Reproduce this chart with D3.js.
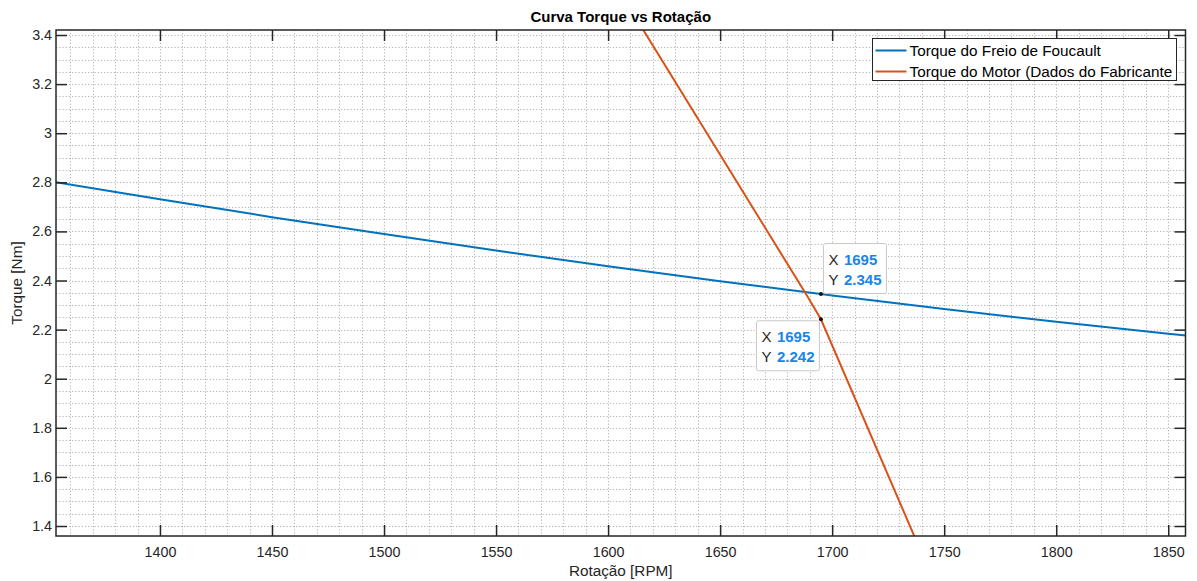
<!DOCTYPE html>
<html>
<head>
<meta charset="utf-8">
<script src="https://cdn.jsdelivr.net/npm/d3@7"></script>
<style>
  html, body { margin: 0; padding: 0; background: #ffffff; }
  svg { display: block; font-family: "Liberation Sans", Arial, Helvetica, sans-serif; }
</style>
</head>
<body>
<svg id="chart" width="1197" height="581"></svg>
<script>
// ---- data ----
const brakeRpm    = [1350, 1400, 1450, 1500, 1550, 1600, 1650, 1695, 1700, 1750, 1800, 1850, 1860];
const brakeTorque = [2.806, 2.731, 2.658, 2.589, 2.522, 2.458, 2.397, 2.345, 2.339, 2.284, 2.232, 2.183, 2.174];
const motorRpm    = [1600, 1689, 1695, 1750];
const motorTorque = [3.653, 2.335, 2.242, 1.076];
const xTicks = [1400, 1450, 1500, 1550, 1600, 1650, 1700, 1750, 1800, 1850];
const yTicks = [1.4, 1.6, 1.8, 2, 2.2, 2.4, 2.6, 2.8, 3, 3.2, 3.4];
const yTickLabels = ["1.4", "1.6", "1.8", "2", "2.2", "2.4", "2.6", "2.8", "3", "3.2", "3.4"];
const seriesNames = ["Torque do Freio de Foucault", "Torque do Motor (Dados do Fabricante"];
const seriesColors = ["#0072BD", "#D95319"];
const tips = [
  { x: 1695, y: 2.345, side: "above" },
  { x: 1695, y: 2.242, side: "below" }
];
const titleText = "Curva Torque vs Rotação";
const xLabel = "Rotação [RPM]";
const yLabel = "Torque [Nm]";

// ---- layout ----
const L = 56, R = 1185.5, T = 30, B = 536;
const svg = d3.select("#chart");
const x = d3.scaleLinear().domain([1353.6, 1857.7]).range([L, R]);
const y = d3.scaleLinear().domain([1.3593, 3.4204]).range([B, T]);
const axisColor = "#262626";

// clip
svg.append("defs").append("clipPath").attr("id", "plotclip")
  .append("rect").attr("x", L).attr("y", T).attr("width", R - L).attr("height", B - T);

// background
svg.append("rect").attr("x", L).attr("y", T).attr("width", R - L).attr("height", B - T).attr("fill", "#fff");

// minor grid (dotted)
const grid = svg.append("g").attr("stroke", "#b4b4b4").attr("stroke-width", 1).attr("stroke-dasharray", "1.2,2");
const xGrid = d3.range(1360, 1858, 10);
const yGrid = d3.range(28, 69).map(d => d * 0.05);
grid.selectAll("line.vx").data(xGrid).join("line")
  .attr("x1", d => Math.round(x(d)) + 0.5).attr("x2", d => Math.round(x(d)) + 0.5)
  .attr("y1", T).attr("y2", B);
grid.selectAll("line.hy").data(yGrid.filter(d => y(d) >= T && y(d) <= B)).join("line")
  .attr("y1", d => Math.round(y(d)) + 0.5).attr("y2", d => Math.round(y(d)) + 0.5)
  .attr("x1", L).attr("x2", R);

// lines
const lineGen = d3.line().x(d => x(d[0])).y(d => y(d[1]));
const plot = svg.append("g").attr("clip-path", "url(#plotclip)");
plot.append("path").datum(d3.zip(brakeRpm, brakeTorque))
  .attr("d", lineGen).attr("fill", "none").attr("stroke", seriesColors[0]).attr("stroke-width", 2);
plot.append("path").datum(d3.zip(motorRpm, motorTorque))
  .attr("d", lineGen).attr("fill", "none").attr("stroke", seriesColors[1]).attr("stroke-width", 2);

// axes
const fmtY = d => yTickLabels[yTicks.indexOf(d)];
const styleAxis = g => {
  g.select(".domain").remove();
  g.selectAll(".tick line").attr("stroke", axisColor).attr("stroke-width", 1.5);
  g.selectAll(".tick text").attr("fill", axisColor).attr("font-size", 14.3)
    .attr("font-family", "Liberation Sans, Arial, sans-serif");
};
svg.append("g").attr("transform", `translate(0,${B})`)
  .call(d3.axisBottom(x).tickValues(xTicks).tickSize(-11).tickPadding(10.5).tickFormat(d3.format("d")))
  .call(styleAxis);
svg.append("g").attr("transform", `translate(0,${T})`)
  .call(d3.axisTop(x).tickValues(xTicks).tickSize(-11).tickFormat(""))
  .call(styleAxis);
svg.append("g").attr("transform", `translate(${L},0)`)
  .call(d3.axisLeft(y).tickValues(yTicks).tickSize(-11).tickPadding(4).tickFormat(fmtY))
  .call(styleAxis);
svg.append("g").attr("transform", `translate(${R},0)`)
  .call(d3.axisRight(y).tickValues(yTicks).tickSize(-11).tickFormat(""))
  .call(styleAxis);
svg.append("rect").attr("x", L).attr("y", T).attr("width", R - L).attr("height", B - T)
  .attr("fill", "none").attr("stroke", axisColor).attr("stroke-width", 1.5);

// title and labels
svg.append("text").attr("x", (L + R) / 2).attr("y", 22).attr("text-anchor", "middle")
  .attr("font-size", 15).attr("font-weight", "bold").attr("fill", "#000").text(titleText);
svg.append("text").attr("x", (L + R) / 2).attr("y", 576).attr("text-anchor", "middle")
  .attr("font-size", 15.3).attr("fill", axisColor).text(xLabel);
svg.append("text").attr("transform", `translate(22,${(T + B) / 2}) rotate(-90)`).attr("text-anchor", "middle")
  .attr("font-size", 15.3).attr("fill", axisColor).text(yLabel);

// legend
const lg = svg.append("g");
const lgX = 872.5, lgY = 38.5, lgW = 304, lgH = 42;
lg.append("rect").attr("x", lgX).attr("y", lgY).attr("width", lgW).attr("height", lgH)
  .attr("fill", "#fff").attr("stroke", axisColor).attr("stroke-width", 1);
seriesNames.forEach((name, i) => {
  const cy = lgY + 12 + i * 21;
  lg.append("line").attr("x1", lgX + 3).attr("x2", lgX + 34).attr("y1", cy).attr("y2", cy)
    .attr("stroke", seriesColors[i]).attr("stroke-width", 2);
  lg.append("text").attr("x", lgX + 37).attr("y", cy + 5.5).attr("font-size", 15.3).attr("fill", "#000").text(name);
});

// data tips
tips.forEach(t => {
  const px = x(t.x), py = y(t.y);
  const w = 63, h = 50;
  const bx = t.side === "above" ? px + 2 : px - 2 - w;
  const by = t.side === "above" ? py - 1 - h : py + 1;
  const g = svg.append("g");
  g.append("rect").attr("x", bx + 0.5).attr("y", by + 0.5).attr("width", w).attr("height", h).attr("rx", 2)
    .attr("fill", "#ffffff").attr("fill-opacity", 0.92).attr("stroke", "#c8c8c8").attr("stroke-width", 1);
  const rows = [["X", String(t.x)], ["Y", String(t.y)]];
  rows.forEach((r, i) => {
    const ty = by + 21.5 + i * 20;
    g.append("text").attr("x", bx + 5.5).attr("y", ty).attr("font-size", 15).attr("fill", "#262626").text(r[0]);
    g.append("text").attr("x", bx + 21).attr("y", ty).attr("font-size", 15).attr("font-weight", "bold")
      .attr("fill", "#1a84e8").text(r[1]);
  });
  svg.append("circle").attr("cx", px).attr("cy", py).attr("r", 2).attr("fill", "#111");
});
</script>
</body>
</html>
